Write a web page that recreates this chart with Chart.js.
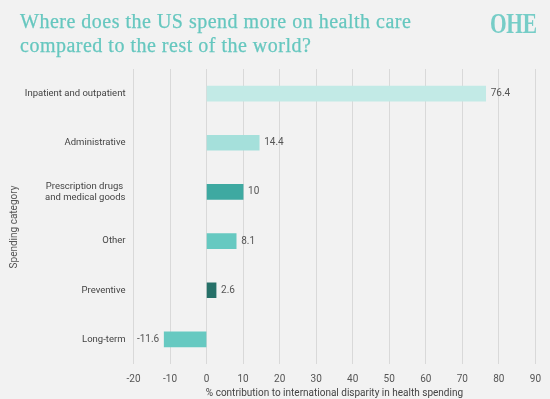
<!DOCTYPE html>
<html>
<head>
<meta charset="utf-8">
<script src="https://cdn.jsdelivr.net/npm/chart.js@4/dist/chart.umd.min.js"></script>
<style>
  html, body { margin: 0; padding: 0; background: #f2f2f2; }
  #wrap { position: relative; width: 550px; height: 399px; overflow: hidden; background: #f2f2f2; }
  #title { position: absolute; left: 20px; top: 8.5px; margin: 0; font-family: "Liberation Serif", serif; font-weight: normal; font-size: 20px; line-height: 24.5px; letter-spacing: 0.5px; color: #66c7bf; -webkit-text-stroke: 0.25px #66c7bf; white-space: nowrap; }
  #logo { position: absolute; left: 490px; top: 9px; font-family: "Liberation Serif", serif; font-weight: bold; font-size: 29px; line-height: 29px; color: #76cdc7; transform: scaleX(0.74); transform-origin: left top; letter-spacing: -0.5px; }
  canvas { position: absolute; left: 0; top: 0; }
</style>
</head>
<body>
<div id="wrap">
  <canvas id="c" width="550" height="399"></canvas>
  <h1 id="title">Where does the US spend more on health care<br>compared to the rest of the world?</h1>
  <div id="logo">OHE</div>
</div>
<script>
const categories = [
  "Inpatient and outpatient",
  "Administrative",
  ["Prescription drugs ", "and medical goods"],
  "Other",
  "Preventive",
  "Long-term"
];
const values = [76.4, 14.4, 10, 8.1, 2.6, -11.6];
const barColors = ["#c2eae6", "#a5e0db", "#3ea9a1", "#66c9c1", "#267068", "#66c9c1"];
const xTicks = [-20, -10, 0, 10, 20, 30, 40, 50, 60, 70, 80, 90];
const yAxisTitle = "Spending category";

const labelPlugin = {
  id: 'valueLabels',
  afterDatasetsDraw(chart) {
    const ctx = chart.ctx;
    const meta = chart.getDatasetMeta(0);
    ctx.save();
    ctx.font = '10px Roboto';
    ctx.fillStyle = '#555555';
    ctx.textBaseline = 'middle';
    meta.data.forEach((bar, i) => {
      const v = values[i];
      const txt = String(v);
      if (v >= 0) {
        ctx.textAlign = 'left';
        ctx.fillText(txt, bar.x + 5, bar.y);
      } else {
        ctx.textAlign = 'right';
        ctx.fillText(txt, bar.x - 5, bar.y);
      }
    });
    // y axis title
    ctx.translate(14.5, 227);
    ctx.rotate(-Math.PI / 2);
    ctx.textAlign = 'center';
    ctx.font = '10px Roboto';
    ctx.fillStyle = '#555555';
    ctx.fillText(yAxisTitle, 0, 0);
    ctx.restore();
  }
};

new Chart(document.getElementById('c'), {
  type: 'bar',
  data: {
    labels: categories,
    datasets: [{
      data: values,
      backgroundColor: barColors,
      borderWidth: 0,
      barThickness: 15
    }]
  },
  options: {
    indexAxis: 'y',
    responsive: false,
    animation: false,
    layout: { padding: { top: 69, right: 12, left: 0, bottom: 0 } },
    plugins: { legend: { display: false }, tooltip: { enabled: false } },
    scales: {
      x: {
        type: 'linear',
        min: -20,
        max: 90,
        afterBuildTicks(scale) { scale.ticks = xTicks.map(v => ({ value: v })); },
        grid: { color: '#d9d9d9', lineWidth: 1, drawTicks: false },
        border: { display: false },
        ticks: { color: '#555555', font: { family: 'Roboto', size: 10 }, padding: 9 },
        title: { display: true, text: '% contribution to international disparity in health spending', color: '#444444', font: { family: 'Roboto', size: 10 }, padding: { top: -7, bottom: 0 } }
      },
      y: {
        grid: { display: false, drawTicks: false },
        border: { display: false },
        ticks: { color: '#444444', font: { family: 'Roboto', size: 9.5 }, padding: 8 },
        afterFit(scale) { scale.width = 133.5; }
      }
    }
  },
  plugins: [labelPlugin]
});
</script>
</body>
</html>
